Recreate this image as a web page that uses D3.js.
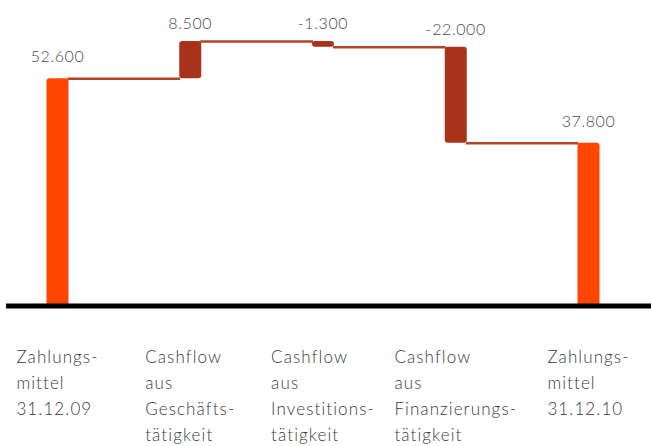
<!DOCTYPE html>
<html>
<head>
<meta charset="utf-8">
<script src="https://cdn.jsdelivr.net/npm/d3@7"></script>
<style>
  html, body { margin: 0; padding: 0; background: #fff; }
  svg { display: block; }
  text { font-family: "Lato", "Open Sans", sans-serif; }
</style>
</head>
<body>
<svg id="chart" width="651" height="446"></svg>
<script>
// Kapitalflussrechnung 2010 (in T€)
const categories = ["z09", "cfg", "cfi", "cff", "z10"];
const categoryLabels = [
  ["Zahlungs-", "mittel", "31.12.09"],
  ["Cashflow", "aus", "Geschäfts-", "tätigkeit"],
  ["Cashflow", "aus", "Investitions-", "tätigkeit"],
  ["Cashflow", "aus", "Finanzierungs-", "tätigkeit"],
  ["Zahlungs-", "mittel", "31.12.10"]
];
const values = [52600, 8500, -1300, -22000, 37800];
const isTotal = [true, false, false, false, true];

const svg = d3.select("#chart");
const W = 651;

const de = d3.formatLocale({ decimal: ",", thousands: ".", grouping: [3], currency: ["", " €"], minus: "-" });
const fmt = de.format(",.0f");

// waterfall segments: totals start at zero, changes start at the running sum
let running = 0;
const segs = values.map((v, i) => {
  let start, end;
  if (isTotal[i]) { start = 0; end = v; running = v; }
  else { start = running; end = running + v; running = end; }
  return { key: categories[i], value: v, start, end, total: isTotal[i], labels: categoryLabels[i] };
});

const x = d3.scalePoint().domain(categories).range([57.5, 588.5]);
const y = d3.scaleLinear().domain([0, 61100]).range([308, 41]);
const barW = 22;
const baseY = 306;

// connectors between consecutive bars
const conn = svg.append("g");
for (let i = 0; i < segs.length - 1; i++) {
  const lvl = segs[i].end;
  conn.append("line")
    .attr("x1", x(segs[i].key) + barW / 2 - 1)
    .attr("x2", x(segs[i + 1].key) - barW / 2 + 1)
    .attr("y1", y(lvl) + 0.5).attr("y2", y(lvl) + 0.5)
    .attr("stroke", "#b5432a").attr("stroke-width", 2.5);
}

// bars
svg.append("g").selectAll("rect").data(segs).join("rect")
  .attr("x", d => x(d.key) - barW / 2)
  .attr("width", barW)
  .attr("y", d => d.total ? y(d.end) : y(Math.max(d.start, d.end)))
  .attr("height", d => d.total ? (baseY - y(d.end)) : Math.abs(y(d.start) - y(d.end)))
  .attr("rx", 3)
  .attr("fill", d => d.total ? "#ff4500" : "#a8321a");

// baseline
svg.append("line")
  .attr("x1", 6).attr("x2", W).attr("y1", baseY).attr("y2", baseY)
  .attr("stroke", "#000").attr("stroke-width", 5);

// value labels
svg.append("g").selectAll("text").data(segs).join("text")
  .attr("x", d => x(d.key))
  .attr("y", d => y(Math.max(d.start, d.end)) - (d.total ? 16 : 12))
  .attr("text-anchor", "middle")
  .attr("font-size", 16)
  .attr("font-weight", 300)
  .attr("letter-spacing", 0.6)
  .attr("fill", "#4a4a4a")
  .text(d => fmt(d.value));

// category labels: a left-aligned block centred under each bar
const cat = svg.append("g").selectAll("text").data(segs).join("text")
  .attr("font-size", 17)
  .attr("font-weight", 300)
  .attr("letter-spacing", 1.1)
  .attr("fill", "#3a3a3a")
  .attr("y", 363);
cat.each(function (d) {
  const t = d3.select(this);
  d.labels.forEach((s, j) => {
    t.append("tspan").attr("x", 0).attr("dy", j === 0 ? 0 : 26).text(s);
  });
  const w = this.getBBox().width;
  t.selectAll("tspan").attr("x", x(d.key) - w / 2);
});
</script>
</body>
</html>
